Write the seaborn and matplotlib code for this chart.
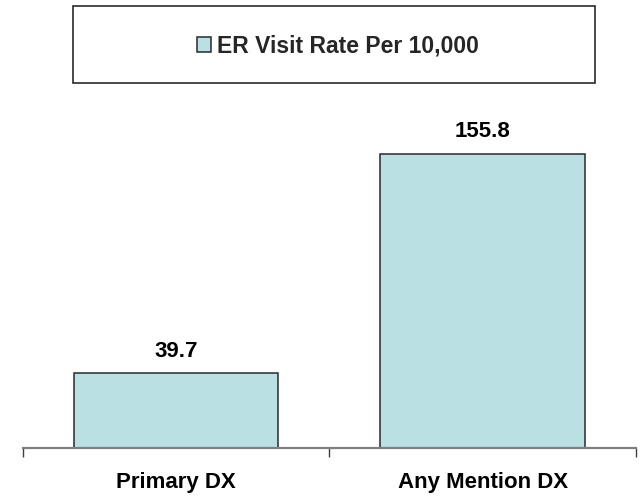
import matplotlib
matplotlib.use("Agg")
import matplotlib.pyplot as plt
from matplotlib.patches import Rectangle
import seaborn as sns
import pandas as pd

categories = ["Primary DX", "Any Mention DX"]
values = [39.7, 155.8]
series_name = "ER Visit Rate Per 10,000"

sns.set_theme(style="white")
plt.rcParams["font.family"] = ["Liberation Sans", "DejaVu Sans"]

df = pd.DataFrame({"category": categories, "value": values, "series": [series_name] * len(categories)})

W, H = 641, 498
fig = plt.figure(figsize=(W / 100, H / 100), dpi=100)
ax_left, ax_right = 22.7, 636.0
ax_bottom_px, ax_top_px = 448.0, 70.0
ax = fig.add_axes([ax_left / W, 1 - ax_bottom_px / H, (ax_right - ax_left) / W, (ax_bottom_px - ax_top_px) / H])

fill = "#BBE0E3"
sns.barplot(data=df, x="category", y="value", hue="series", palette=[fill], saturation=1,
            width=0.667, edgecolor="#2a2a2a", linewidth=1.1, ax=ax, legend=True)

ax.set_xlim(-0.5, 1.5)
ax.set_ylim(0, 200)
ax.set_xlabel("")
ax.set_ylabel("")
ax.set_yticks([])
for s in ["left", "top", "right"]:
    ax.spines[s].set_visible(False)
ax.spines["bottom"].set_color("#808080")
ax.spines["bottom"].set_linewidth(1.6)

ax.set_xticks([0, 1])
ax.set_xticklabels(categories, fontsize=16, fontweight="bold", color="black")
ax.tick_params(axis="x", which="major", length=0, pad=17)
ax.set_xticks([-0.5, 0.5, 1.5], minor=True)
ax.tick_params(axis="x", which="minor", length=6.5, width=1.0, color="#404040", direction="out", bottom=True)

for cont in ax.containers:
    ax.bar_label(cont, fmt="%.1f", padding=8, fontsize=16, fontweight="bold", color="black")

handles, labels = ax.get_legend_handles_labels()
ax.get_legend().remove()
leg = fig.legend(handles, labels, loc="center", bbox_to_anchor=(338 / W, 1 - 46 / H),
                 frameon=False, prop={"size": 16.5, "weight": "bold"},
                 handlelength=0.62, handleheight=0.68, handletextpad=0.28)

box = Rectangle((73 / W, 1 - 83 / H), (595 - 73) / W, (83 - 6) / H, transform=fig.transFigure,
                facecolor="none", edgecolor="#2a2a2a", linewidth=1.2)
fig.patches.append(box)

fig.savefig("out.png", dpi=100)
